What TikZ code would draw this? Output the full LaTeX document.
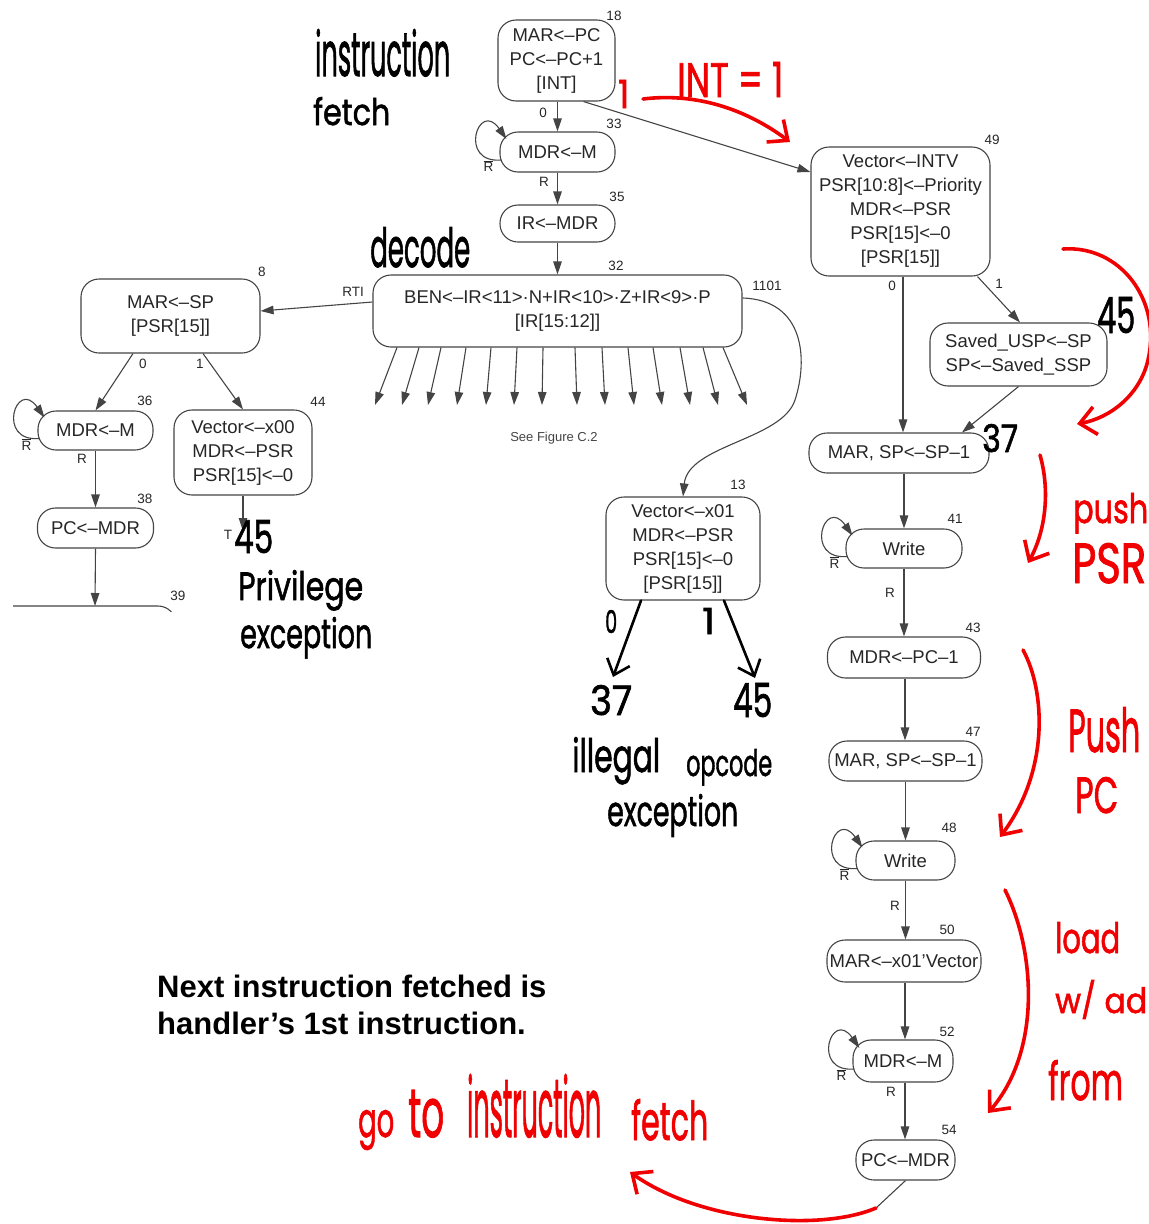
\documentclass[tikz,border=0pt]{standalone}
\usepackage{fontspec}
\setmainfont{Liberation Sans}
\newfontfamily\handfont{Poppins}[FakeBold=1.6]
\usetikzlibrary{arrows.meta,calc}
\definecolor{linegray}{HTML}{444444}
\definecolor{textgray}{HTML}{262626}
\definecolor{inkred}{HTML}{F00000}
\newcommand\nodefont{\fontsize{18.5}{24}\selectfont}
\newcommand\tagfont{\fontsize{13.5}{15}\selectfont}
% handwritten note: width, height above baseline, text
\newcommand\hw[3]{\resizebox{#1pt}{#2pt}{\handfont #3}}
\newcommand\Rnot{$\overline{\mbox{R}}$}
\begin{document}
\begin{tikzpicture}[x=1pt,y=-1pt,
  st/.style={draw=linegray,line width=1.1pt,rounded corners=18pt,align=center,
             inner sep=0pt,text=textgray,font=\nodefont},
  arr/.style={draw=linegray,line width=1.1pt,-{Triangle[length=13pt,width=8.5pt]}},
  tag/.style={font=\tagfont,text=textgray,inner sep=0pt},
  hand/.style={anchor=base west,inner sep=0pt,text=black},
  redhand/.style={anchor=base west,inner sep=0pt,text=inkred},
  ink/.style={draw=black,line width=2.6pt,line cap=round,line join=round,
              -{Straight Barb[length=14pt,width=24pt]}},
  redink/.style={draw=inkred,line width=3.6pt,line cap=round,line join=round,
              -{Straight Barb[length=16pt,width=28pt]}},
]
\useasboundingbox (0,0) rectangle (1149,1224);

% ---------- states ----------
\node[st,minimum width=117pt,minimum height=81pt] (n18) at (556.5,60.5) {MAR<–PC\\PC<–PC+1\\{[INT]}};
\node[st,minimum width=115pt,minimum height=40pt] (n33) at (557.5,152) {MDR<–M};
\node[st,minimum width=115pt,minimum height=37pt] (n35) at (557.5,223.5) {IR<–MDR};
\node[st,minimum width=369pt,minimum height=72pt] (n32) at (557.5,311) {BEN<–IR<11>·N+IR<10>·Z+IR<9>·P\\{[IR[15:12]]}};
\node[st,minimum width=179pt,minimum height=74pt] (n8) at (170.5,316) {MAR<–SP\\{[PSR[15]]}};
\node[st,minimum width=115pt,minimum height=39pt] (n36) at (95.5,430.5) {MDR<–M};
\node[st,minimum width=116pt,minimum height=40pt] (n38) at (95.5,528) {PC<–MDR};
\node[st,minimum width=138pt,minimum height=85pt] (n44) at (243,452.5) {Vector<–x00\\MDR<–PSR\\PSR[15]<–0};
\node[st,minimum width=154pt,minimum height=103pt] (n13) at (683,548.5) {Vector<–x01\\MDR<–PSR\\PSR[15]<–0\\{[PSR[15]]}};
\node[st,minimum width=179pt,minimum height=129pt] (n49) at (900.5,211.5) {Vector<–INTV\\PSR[10:8]<–Priority\\MDR<–PSR\\PSR[15]<–0\\{[PSR[15]]}};
\node[st,minimum width=177pt,minimum height=63pt] (n45) at (1018.5,354.5) {Saved\_USP<–SP\\SP<–Saved\_SSP};
\node[st,minimum width=180pt,minimum height=40pt] (n37) at (899,453) {MAR, SP<–SP–1};
\node[st,minimum width=116pt,minimum height=39pt] (n41) at (904,548.5) {Write};
\node[st,minimum width=153pt,minimum height=41pt] (n43) at (904,657.5) {MDR<–PC–1};
\node[st,minimum width=153pt,minimum height=40pt] (n47) at (905.5,761) {MAR, SP<–SP–1};
\node[st,minimum width=99pt,minimum height=39pt] (n48) at (905.5,860.5) {Write};
\node[st,minimum width=154pt,minimum height=42pt] (n50) at (904,961) {MAR<–x01'Vector};
\node[st,minimum width=100pt,minimum height=42pt] (n52) at (903,1061) {MDR<–M};
\node[st,minimum width=99pt,minimum height=40pt] (n54) at (905.5,1160) {PC<–MDR};

% state 39: only its top edge is in view
\coordinate (s39) at (95,606);
\begin{scope}
  \clip (13,596) rectangle (200,611);
  \draw[draw=linegray,line width=1.1pt,rounded corners=18pt] (-30,606) rectangle (176,680);
\end{scope}

% ---------- transitions ----------
\draw[arr] (n18.south -| n33) -- (n33.north);
\draw[arr] (n33.south -| n35) -- (n35.north);
\draw[arr] (n35.south) -- (n35.south |- n32.north);
\draw[arr] ([shift={(0,-9)}]n32.west) -- ([shift={(0,-5)}]n8.east);
\foreach \i/\sx/\ex in {1/397/375,2/419/402,3/441/428,4/466/457,5/491/486,6/517/514,7/543/542,
                        8/575/577,9/602/605,10/628/634,11/653/662,12/680/690,13/703/718,14/723/747}{
  \coordinate (fan\i) at (\ex,405);
  \draw[arr] ([shift={(\sx-557.5,0)}]n32.south) -- (fan\i);
}
\draw[arr] ([shift={(-37.5,0)}]n8.south) -- (n36.north);
\draw[arr] ([shift={(32.5,0)}]n8.south) -- (n44.north);
\draw[arr] (n36.south) -- (n36.south |- n38.north);
\draw[arr] (n38.south) -- (s39);
\coordinate (to45) at (243,531);
\draw[arr] (n44.south) -- (to45);
\draw[arr] ([shift={(0,-13)}]n32.east) .. controls (805,300) and (808,360) .. (795,400)
           .. controls (782,440) and (688,445) .. (n13.north);
\draw[arr] ([shift={(27,0)}]n18.south) -- ([shift={(0,-39.5)}]n49.west);
\draw[arr] ([shift={(2.5,0)}]n49.south) -- ([shift={(4,0)}]n37.north);
\draw[arr] ([shift={(77,0)}]n49.south) -- ([shift={(1.5,0)}]n45.north);
\draw[arr] (n45.south) -- ([shift={(63,0)}]n37.north);
\draw[arr] ([shift={(5,0)}]n37.south) -- (n41.north);
\draw[arr] (n41.south) -- (n41.south |- n43.north);
\draw[arr] ([shift={(1,0)}]n43.south) -- ([shift={(1,0)}]n43.south |- n47.north);
\draw[arr] (n47.south) -- (n47.south |- n48.north);
\draw[arr] (n48.south) -- (n48.south |- n50.north);
\draw[arr] ([shift={(1,0)}]n50.south) -- ([shift={(1,0)}]n50.south |- n52.north);
\draw[arr] ([shift={(2,0)}]n52.south) -- ([shift={(2,0)}]n52.south |- n54.north);
\coordinate (ret) at (876,1208);
\draw[draw=linegray,line width=1.1pt] (n54.south) -- (ret);

% wait-for-ready self loops
\foreach \n in {n33,n36,n41,n48,n52}{
  \draw[arr] ([shift={(2,8)}]\n.west) .. controls +(-44,4) and +(-28,-40) .. ([shift={(7,-13)}]\n.west);
  \node[tag] (rb\n) at ([shift={(-11,14)}]\n.west) {\Rnot};
}

% ---------- state numbers and branch labels ----------
\foreach \nm/\x/\y/\t in {t18/614/16/18, t33/614/124/33, t35/617/197/35, t32/616/266/32,
   t1101/767/286/1101, tRTI/353/292/RTI, t8/262/272/8, t36/145/401/36, t44/318/402/44,
   t38/145/499/38, t39/178/596/39, t13/738/485/13, t49/992/140/49, t41/955/519/41,
   t43/973/628/43, t47/973/732/47, t48/949/828/48, t50/947/930/50, t52/947/1032/52,
   t54/949/1130/54, e18/543/113/0, e33/544/182/R, e8a/143/364/0, e8b/200/364/1,
   e36/82/459/R, e49a/892/286/0, e49b/999/284/1, e41/890/593/R, e48/895/906/R,
   e52/891/1092/R, eT/228/535/T}{
  \node[tag] (\nm) at (\x,\y) {\t};
}
\node[tag,font=\fontsize{13}{15}\selectfont,text=linegray] (seeC) at (554,438) {See Figure C.2};

% ---------- printed note ----------
\node[anchor=base west,inner sep=0pt,font=\fontsize{31}{37}\selectfont\bfseries] (note1) at (157,997) {Next instruction fetched is};
\node[anchor=base west,inner sep=0pt,font=\fontsize{31}{37}\selectfont\bfseries] (note2) at (157,1034) {handler's 1st instruction.};

% ---------- handwritten notes, black ----------
\node[hand] (hInstr) at (315,76) {\hw{135}{47}{instruction}};
\node[hand] (hFetch) at (313,125) {\hw{77}{28}{fetch}};
\node[hand] (hDecode) at (370,267) {\hw{100}{40}{decode}};
\node[hand] (hT45) at (234,553) {\hw{39}{33}{45}};
\node[hand] (hPriv) at (238,600) {\hw{125}{30}{Privilege}};
\node[hand] (hExc1) at (240,648) {\hw{132}{31}{exception}};
\node[hand] (hZero) at (605,633) {\hw{12}{23}{0}};
\node[hand] (hOne) at (702,634) {\hw{13}{26}{1}};
\node[hand] (h37a) at (590,715) {\hw{42}{30}{37}};
\node[hand] (h45a) at (733,717) {\hw{39}{34}{45}};
\node[hand] (hIll) at (572,772) {\hw{88}{35}{illegal}};
\node[hand] (hOpc) at (686,776) {\hw{86}{27}{opcode}};
\node[hand] (hExc2) at (607,826) {\hw{131}{32}{exception}};
\node[hand] (h45b) at (1097,333) {\hw{38}{36}{45}};
\node[hand] (h37b) at (982,452) {\hw{36}{28}{37}};
\coordinate (c37) at (613,677);
\coordinate (c45) at (755,678);
\draw[ink] ([shift={(-42,0)}]n13.south) -- (c37);
\draw[ink] ([shift={(41,0)}]n13.south) -- (c45);

% ---------- handwritten notes, red ----------
\node[redhand] (rInt) at (677,97) {\hw{106}{35}{INT = 1}};
\node[redhand] (rOne) at (618,108) {\hw{11}{28}{1}};
\node[redhand] (rPush) at (1073,523) {\hw{75}{30}{push}};
\node[redhand] (rPSR) at (1072,583) {\hw{74}{40}{PSR}};
\node[redhand] (rPush2) at (1068,752) {\hw{72}{45}{Push}};
\node[redhand] (rPC) at (1075,813) {\hw{43}{36}{PC}};
\node[redhand] (rLoad) at (1055,953) {\hw{65}{31}{load}};
\node[redhand] (rWad) at (1055,1013) {\hw{92}{33}{w/ ad}};
\node[redhand] (rFrom) at (1048,1100) {\hw{75}{40}{from}};
\node[redhand] (rGo) at (358,1137) {\hw{36}{27}{go}};
\node[redhand] (rTo) at (408,1137) {\hw{36}{47}{to}};
\node[redhand] (rInstr) at (467,1137) {\hw{134}{63}{instruction}};
\node[redhand] (rFetch) at (631,1140) {\hw{77}{41}{fetch}};

\draw[redink] (643,99) .. controls (700,92) and (750,112) .. (790,142);
\draw[redink] (1063,249) .. controls (1120,245) and (1162,300) .. (1148,360)
              .. controls (1140,395) and (1110,418) .. (1077,424);
\draw[redink] (1040,455) .. controls (1050,490) and (1046,530) .. (1028,563);
\draw[redink] (1023,650) .. controls (1045,690) and (1050,770) .. (1000,837);
\draw[redink] (1005,890) .. controls (1035,950) and (1042,1050) .. (988,1113);
\draw[redink] (ret) .. controls (820,1232) and (700,1222) .. (630,1172);
\end{tikzpicture}
\end{document}
